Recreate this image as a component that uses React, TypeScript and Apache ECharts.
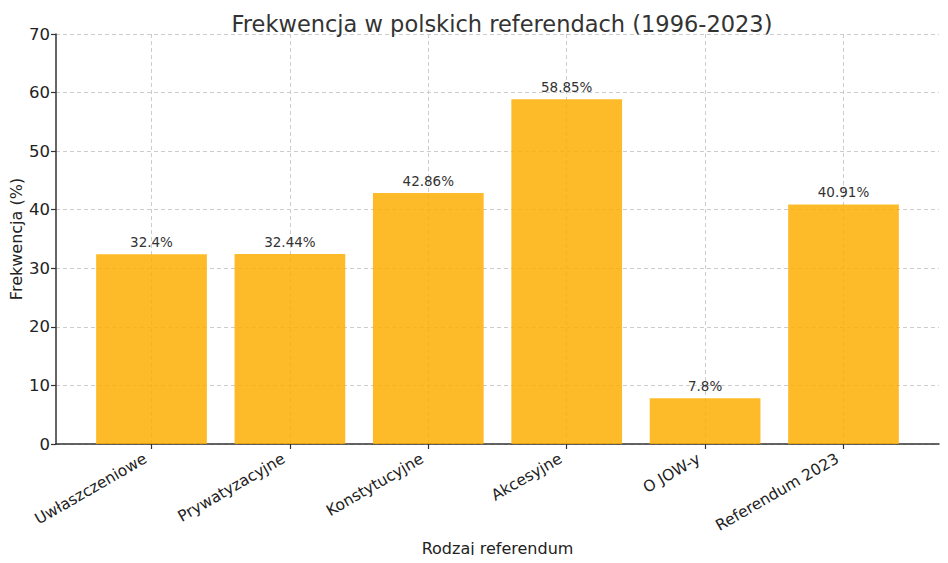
import React, { useEffect, useRef } from "react";
import * as echarts from "echarts";

const categories = [
  "Uwłaszczeniowe",
  "Prywatyzacyjne",
  "Konstytucyjne",
  "Akcesyjne",
  "O JOW-y",
  "Referendum 2023",
];
const turnout = [32.4, 32.44, 42.86, 58.85, 7.8, 40.91];
const yTicks = [0, 10, 20, 30, 40, 50, 60, 70];

const FONT = "DejaVu Sans";

export default function App() {
  const ref = useRef<HTMLDivElement>(null);
  useEffect(() => {
    if (!ref.current) return;
    const chart = echarts.init(ref.current, null, { renderer: "svg" });
    const idx = categories.map((_, i) => i);
    chart.setOption({
      animation: false,
      textStyle: { fontFamily: FONT },
      title: {
        text: "Frekwencja w polskich referendach (1996-2023)",
        left: 497,
        top: 7,
        textAlign: "center",
        textStyle: { fontFamily: FONT, fontSize: 22.5, fontWeight: "normal", color: "#333" },
      },
      grid: {
        left: 56,
        right: 9,
        top: 34,
        bottom: 119,
        containLabel: false,
        outerBoundsMode: "none",
      },
      xAxis: {
        type: "value",
        min: -0.69,
        max: 5.69,
        name: "Rodzaj referendum",
        nameLocation: "middle",
        nameGap: 87,
        nameTextStyle: { fontFamily: FONT, fontSize: 16, color: "#222" },
        axisLine: { show: true, onZero: false, lineStyle: { color: "#333", width: 1.5 } },
        axisTick: { show: true, customValues: idx, length: 5, lineStyle: { color: "#333", width: 1.2 } },
        axisLabel: {
          customValues: idx,
          rotate: 30,
          margin: 10,
          padding: [0, 7, 0, 0],
          fontFamily: FONT,
          fontSize: 15.5,
          color: "#222",
          formatter: (v: number) => categories[Math.round(v)] ?? "",
        },
        splitLine: { show: true, lineStyle: { color: "#ccc", type: [4, 3], width: 1 } },
      },
      yAxis: {
        type: "value",
        min: yTicks[0],
        max: yTicks[yTicks.length - 1],
        interval: 10,
        name: "Frekwencja (%)",
        nameLocation: "middle",
        nameGap: 32,
        nameMoveOverlap: false,
        nameTextStyle: { fontFamily: FONT, fontSize: 16, color: "#222" },
        axisLine: { show: true, onZero: false, lineStyle: { color: "#333", width: 1.5 } },
        axisTick: { show: true, length: 5, lineStyle: { color: "#333", width: 1.2 } },
        axisLabel: { fontFamily: FONT, fontSize: 16.5, color: "#222", margin: 6 },
        splitLine: { show: true, lineStyle: { color: "#ccc", type: [4, 3], width: 1 } },
      },
      series: [
        {
          type: "bar",
          data: turnout.map((v, i) => [i, v]),
          barWidth: "80%",
          itemStyle: { color: "rgba(253,174,0,0.84)" },
          label: {
            show: true,
            position: "top",
            distance: 5,
            fontFamily: FONT,
            fontSize: 13.5,
            color: "#333",
            formatter: (p: any) => `${p.value[1]}%`,
          },
        },
      ],
    });
    return () => chart.dispose();
  }, []);
  return <div ref={ref} style={{ width: 948, height: 563, margin: -8 }} />;
}
